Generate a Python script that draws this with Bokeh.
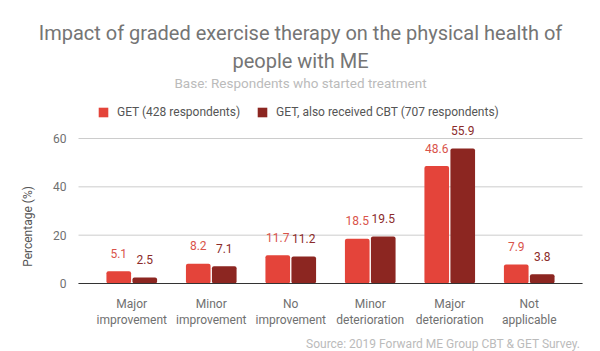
import numpy as np
from bokeh.plotting import figure
from bokeh.models import Range1d, FixedTicker, Label, Legend, LegendItem, ColumnDataSource
from bokeh.core.properties import value
from bokeh.embed import file_html
from bokeh.resources import INLINE

categories = ["Major\nimprovement", "Minor\nimprovement", "No\nimprovement",
              "Minor\ndeterioration", "Major\ndeterioration", "Not\napplicable"]
get_only = [5.1, 8.2, 11.7, 18.5, 48.6, 7.9]
get_cbt = [2.5, 7.1, 11.2, 19.5, 55.9, 3.8]
series_names = ["GET (428 respondents)", "GET, also received CBT (707 respondents)"]
y_ticks = [0, 20, 40, 60]

RED = "#e4443a"
DARK = "#8c2621"
FONT = "Roboto"

# ---- layout (pixels) ----
W, H = 600, 351
PL, PR = 78, 582          # plot area left/right
PY0, PY60 = 283, 138      # pixel rows of y=0 and y=60
XL, XR = -0.67, 5.67      # category-axis extent of plot area

pxx = (PR - PL) / (XR - XL)
pxy = (PY0 - PY60) / 60.0
x_start = XL - PL / pxx
x_end = XR + (W - PR) / pxx
y_start = -(H - PY0) / pxy
y_end = PY0 / pxy

idx = np.arange(len(categories))
off = 0.1635
bw = 0.31

p = figure(width=W, height=H, output_backend="svg", toolbar_location=None,
           x_range=Range1d(x_start, x_end), y_range=Range1d(y_start, y_end),
           min_border=0)
p.outline_line_color = None
p.background_fill_color = "white"
p.border_fill_color = "white"

# gridlines inside plot area
p.segment(x0=XL, x1=XR, y0=y_ticks, y1=y_ticks, line_color="#cccccc", line_width=1, level="underlay")

src1 = ColumnDataSource(dict(x=idx - off, top=get_only, lbl=[f"{v:.1f}" for v in get_only]))
src2 = ColumnDataSource(dict(x=idx + off, top=get_cbt, lbl=[f"{v:.1f}" for v in get_cbt]))

r1 = p.vbar(x="x", top="top", width=bw, source=src1, fill_color=RED, line_color=None,
            border_radius=2)
r2 = p.vbar(x="x", top="top", width=bw, source=src2, fill_color=DARK, line_color=None,
            border_radius=2)

p.text(x="x", y="top", text="lbl", source=src1, text_align="center", text_baseline="middle",
       y_offset=-18, text_font_size="12px", text_color="#d9534a", text_font=value(FONT))
p.text(x="x", y="top", text="lbl", source=src2, text_align="center", text_baseline="middle",
       y_offset=-18, text_font_size="12px", text_color="#8b2b2a", text_font=value(FONT))

# axes
p.xaxis.fixed_location = 0
p.xaxis.bounds = (XL, XR)
p.xaxis.ticker = FixedTicker(ticks=list(idx))
p.xaxis.major_label_overrides = {int(i): c for i, c in zip(idx, categories)}
p.xaxis.major_tick_line_color = None
p.xaxis.minor_tick_line_color = None
p.xaxis.axis_line_color = "#333333"
p.xaxis.major_label_text_font = FONT
p.xaxis.major_label_text_font_size = "12px"
p.xaxis.major_label_text_color = "#707070"
p.xaxis.major_label_standoff = 7

p.yaxis.fixed_location = XL
p.yaxis.ticker = FixedTicker(ticks=y_ticks)
p.yaxis.axis_line_color = None
p.yaxis.major_tick_line_color = None
p.yaxis.minor_tick_line_color = None
p.yaxis.major_label_text_font = FONT
p.yaxis.major_label_text_font_size = "12px"
p.yaxis.major_label_text_color = "#707070"
p.yaxis.major_label_standoff = 6

p.xgrid.grid_line_color = None
p.ygrid.grid_line_color = None

# legend
legend = Legend(items=[LegendItem(label=series_names[0], renderers=[r1]),
                       LegendItem(label=series_names[1], renderers=[r2])],
                orientation="horizontal", location=(97, H - 119),
                glyph_width=12, glyph_height=12, label_height=12, label_standoff=8, spacing=16,
                padding=0, margin=0, border_line_color=None, background_fill_alpha=0,
                label_text_font=FONT, label_text_font_size="12px", label_text_color="#555555")
p.add_layout(legend, "center")

def lab(x, y, text, **kw):
    p.add_layout(Label(x=x, y=H - y, x_units="screen", y_units="screen", text=text,
                       text_baseline="middle", text_font=FONT, **kw))

lab(300, 32, "Impact of graded exercise therapy on the physical health of",
    text_align="center", text_font_size="20px", text_color="#757575")
lab(300, 60, "people with ME", text_align="center", text_font_size="20px", text_color="#757575")
lab(300, 82, "Base: Respondents who started treatment", text_align="center",
    text_font_size="13.5px", text_color="#bbbbbb")
lab(580, 343, "Source: 2019 Forward ME Group CBT & GET Survey.", text_align="right",
    text_font_size="12px", text_color="#bbbbbb")
lab(27, 226, "Percentage (%)", angle=np.pi / 2, text_align="center",
    text_font_size="12px", text_color="#555555")

open("out.html", "w").write(file_html(p, INLINE))
